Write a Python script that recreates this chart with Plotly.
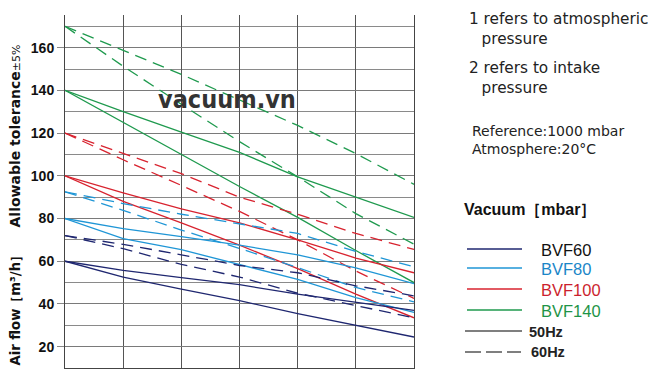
import plotly.graph_objects as go

# ---------------- data ----------------
x_pos = [0, 1, 2, 3, 4, 5, 6]
y_ticks = [20, 40, 60, 80, 100, 120, 140, 160]
y_tick_labels = [str(v) for v in y_ticks]

bvf140_60hz_1 = [170, 158.6, 147.5, 135.5, 123.6, 110.4, 96]
bvf140_60hz_2 = [170, 151.3, 133.5, 116, 99.5, 82.3, 68]
bvf140_50hz_1 = [140, 130, 120.5, 111, 99.5, 90, 80.5]
bvf140_50hz_2 = [140, 125, 110, 95, 80.5, 65, 50]

bvf100_60hz_1 = [120, 110.5, 101, 90, 82, 73, 65.5]
bvf100_60hz_2 = [120, 107.5, 95.5, 83.3, 70, 55.4, 42.6]
bvf100_50hz_1 = [100, 92, 84.5, 78, 70, 61.5, 54.6]
bvf100_50hz_2 = [100, 88, 78, 67.5, 56.5, 44.6, 33.5]

bvf80_60hz_1 = [92.5, 87, 82, 77.5, 73, 64.6, 57.4]
bvf80_60hz_2 = [92.5, 83.8, 74.6, 66, 57, 47.7, 41]
bvf80_50hz_1 = [80, 75.3, 71.5, 67.5, 63, 56.9, 49.5]
bvf80_50hz_2 = [80, 70.6, 65.4, 58.5, 51.5, 43, 36]

bvf60_60hz_1 = [72, 67.9, 63, 58, 54.6, 48.5, 43.8]
bvf60_60hz_2 = [72, 65.9, 58.5, 52.6, 45, 39.2, 33.5]
bvf60_50hz_1 = [60, 55.7, 52.3, 49, 44.6, 40.8, 37]
bvf60_50hz_2 = [60, 52.6, 46.9, 41.5, 35.5, 30, 24.5]

models = ["BVF60", "BVF80", "BVF100", "BVF140"]
line_colors = {"BVF60": "#1f2770", "BVF80": "#1f96d6", "BVF100": "#d8232f", "BVF140": "#1f9a4e"}
label_colors = {"BVF60": "#111111", "BVF80": "#1a86c8", "BVF100": "#cc1f2e", "BVF140": "#1e9447"}

series = [
    ("BVF140", "60Hz", bvf140_60hz_1), ("BVF140", "60Hz", bvf140_60hz_2),
    ("BVF140", "50Hz", bvf140_50hz_1), ("BVF140", "50Hz", bvf140_50hz_2),
    ("BVF100", "60Hz", bvf100_60hz_1), ("BVF100", "60Hz", bvf100_60hz_2),
    ("BVF100", "50Hz", bvf100_50hz_1), ("BVF100", "50Hz", bvf100_50hz_2),
    ("BVF80", "60Hz", bvf80_60hz_1), ("BVF80", "60Hz", bvf80_60hz_2),
    ("BVF80", "50Hz", bvf80_50hz_1), ("BVF80", "50Hz", bvf80_50hz_2),
    ("BVF60", "60Hz", bvf60_60hz_1), ("BVF60", "60Hz", bvf60_60hz_2),
    ("BVF60", "50Hz", bvf60_50hz_1), ("BVF60", "50Hz", bvf60_50hz_2),
]

# ---------------- figure geometry ----------------
# the page body has an 8px margin, so the figure is drawn 8px in from the window corner
OFF = 8
W, H = 648, 364
PLOT_L, PLOT_R, PLOT_T, PLOT_B = 65, 414, 15, 368   # plot box in window pixels
ML, MT = PLOT_L - OFF, PLOT_T - OFF
MR, MB = W - (PLOT_R - OFF), H - (PLOT_B - OFF)
PW, PH = PLOT_R - PLOT_L, PLOT_B - PLOT_T


def px(x):
    return (x - PLOT_L) / PW


def py(y):
    return (PLOT_B - y) / PH


fig = go.Figure()
for model, freq, vals in series:
    fig.add_trace(go.Scatter(
        x=x_pos, y=vals, mode="lines",
        line=dict(color=line_colors[model], width=1.3,
                  dash="12px,7px" if freq == "60Hz" else "solid"),
        showlegend=False, hoverinfo="skip",
    ))

shapes = []
ann = []

# legend samples
leg_y = {"BVF60": 249, "BVF80": 268, "BVF100": 289, "BVF140": 310}
for m in models:
    shapes.append(dict(type="line", xref="paper", yref="paper",
                       x0=px(467), x1=px(522), y0=py(leg_y[m]), y1=py(leg_y[m]),
                       line=dict(color=line_colors[m], width=1.6)))
    ann.append(dict(text=m, xref="paper", yref="paper", x=px(539), y=py(leg_y[m] + 0.5),
                    xanchor="left", yanchor="middle", showarrow=False,
                    font=dict(family="Liberation Sans, Arial", size=16.5, color=label_colors[m])))
shapes.append(dict(type="line", xref="paper", yref="paper",
                   x0=px(465), x1=px(522), y0=py(331), y1=py(331),
                   line=dict(color="#555555", width=1.5)))
shapes.append(dict(type="line", xref="paper", yref="paper",
                   x0=px(465), x1=px(521), y0=py(352), y1=py(352),
                   line=dict(color="#555555", width=1.5, dash="16px,5px")))
ann.append(dict(text="<b>50Hz</b>", xref="paper", yref="paper", x=px(527), y=py(332),
                xanchor="left", yanchor="middle", showarrow=False,
                font=dict(family="Liberation Sans, Arial", size=14.5, color="#222222")))
ann.append(dict(text="<b>60Hz</b>", xref="paper", yref="paper", x=px(529), y=py(352),
                xanchor="left", yanchor="middle", showarrow=False,
                font=dict(family="Liberation Sans, Arial", size=14.5, color="#222222")))
ann.append(dict(text="<b>Vacuum［mbar］</b>", xref="paper", yref="paper", x=px(462), y=py(210),
                xanchor="left", yanchor="middle", showarrow=False,
                font=dict(family="Liberation Sans, Arial", size=16, color="#111111")))

# notes (multi-line blocks)
IND = "\u2002\u00a0"
notes = [
    ("1 refers to atmospheric<br>" + IND + "pressure", 467, 29, 15.3),
    ("2 refers to intake<br>" + IND + "pressure", 467, 78, 15.3),
    ("Reference:1000 mbar<br>Atmosphere:20°C", 470, 140, 14),
]
for t, x, y, s in notes:
    ann.append(dict(text=t, xref="paper", yref="paper", x=px(x), y=py(y),
                    xanchor="left", yanchor="middle", align="left", showarrow=False,
                    font=dict(family="DejaVu Sans", size=s, color="#222222")))

# y-axis title (two parts)
ann.append(dict(text="<b>Air flow［m³/h］</b>", xref="paper", yref="paper",
                x=px(14.5), y=py(307), xanchor="center", yanchor="middle",
                textangle=-90, showarrow=False,
                font=dict(family="DejaVu Sans", size=13.2, color="#111111")))
ann.append(dict(text="<b>Allowable tolerance</b><span style='font-size:11px'>±5%</span>",
                xref="paper", yref="paper",
                x=px(14.5), y=py(136), xanchor="center", yanchor="middle",
                textangle=-90, showarrow=False,
                font=dict(family="DejaVu Sans", size=14, color="#111111")))

# watermark
ann.append(dict(text="<b>vacuum.vn</b>", xref="paper", yref="paper",
                x=px(227), y=py(99), xanchor="center", yanchor="middle", showarrow=False,
                font=dict(family="DejaVu Sans Condensed, sans-serif", size=25, color="#333333")))

fig.update_layout(
    width=W, height=H,
    margin=dict(l=ML, r=MR, t=MT, b=MB, pad=0, autoexpand=False),
    paper_bgcolor="white", plot_bgcolor="white",
    shapes=shapes, annotations=ann, showlegend=False,
    xaxis=dict(range=[0, 6], dtick=1, tick0=0, showticklabels=False, ticks="",
               showgrid=True, gridcolor="#555555", gridwidth=1, zeroline=False,
               showline=True, linecolor="#444444", linewidth=1, automargin=False),
    yaxis=dict(range=[10, 10 + PH / 2.1356], tickvals=y_ticks,
               ticktext=["<b>%s</b>" % t for t in y_tick_labels],
               ticks="outside", ticklen=7, tickcolor="#888888", tickwidth=1,
               tickfont=dict(family="Liberation Sans, Arial", size=14, color="#111111"),
               showgrid=True, gridcolor="#7a7a7a", gridwidth=1, zeroline=False,
               minor=dict(dtick=10, tick0=0, showgrid=True, gridcolor="#8a8a8a", gridwidth=1, ticks=""),
               showline=True, linecolor="#444444", linewidth=1, mirror=True, automargin=False),
)

fig.write_html("out.html")
